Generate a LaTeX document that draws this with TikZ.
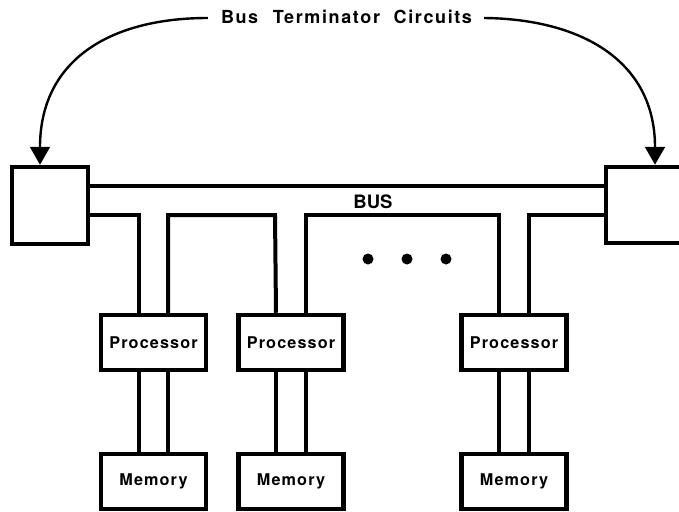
\documentclass[tikz,border=0pt]{standalone}
\usepackage{fontspec}
\setmainfont{TeX Gyre Heros}
\usetikzlibrary{arrows.meta,calc}
\begin{document}
\begin{tikzpicture}[x=1pt,y=-1pt,
  box/.style={draw,line width=4.5pt,inner sep=0pt},
  procbox/.style={box,minimum width=105pt,minimum height=55pt,
    font=\fontsize{16.2}{20}\selectfont\bfseries\addfontfeatures{LetterSpace=7}},
  wire/.style={line width=4pt},
  curvearrow/.style={line width=2.4pt,-{Triangle[length=18pt,width=20pt]}},
  dot/.style={circle,fill,inner sep=0pt,minimum size=11pt}]
\useasboundingbox (0,0) rectangle (679,511);

% terminators
\node[box,minimum width=76pt,minimum height=77pt] (termL) at (50,205.5) {};
\node[box,minimum width=76pt,minimum height=76pt] (termR) at (644,205) {};

% processors and memories
\node[procbox] (proc1) at (153.5,342.5) {Processor};
\node[procbox] (proc2) at (291,342.5) {Processor};
\node[procbox] (proc3) at (514,342.5) {Processor};
\node[procbox] (mem1) at (153.5,481.5) {Memory};
\node[procbox] (mem2) at (291,481.5) {Memory};
\node[procbox] (mem3) at (514,481.5) {Memory};

% labels
\node[font=\fontsize{18}{22}\selectfont\bfseries\addfontfeatures{LetterSpace=9},inner sep=0pt] (title) at (346.5,17) {Bus\hspace{8pt} Terminator\hspace{7pt} Circuits};
\node[font=\fontsize{18.5}{22}\selectfont\bfseries,inner sep=0pt] (buslbl) at (373,202) {BUS};

% dots
\node[dot] (d1) at (368,259) {};
\node[dot] (d2) at (407,259) {};
\node[dot] (d3) at (446,259) {};

% bus top line
\draw[wire] (termL.east |- 0,186) -- (termR.west |- 0,186);
% bus lower line with drops
\draw[wire] (termL.east |- 0,215) -| ([xshift=-14.5pt]proc1.north);
\draw[wire] ([xshift=14.5pt]proc1.north) |- (275,215) -- ([xshift=-15pt]proc2.north);
\draw[wire] ([xshift=15pt]proc2.north) |- (499,215) -- ([xshift=-15pt]proc3.north);
\draw[wire] ([xshift=14.5pt]proc3.north) |- (termR.west |- 0,215);

% processor-memory links
\draw[wire] ([xshift=-14.5pt]proc1.south) -- ([xshift=-14.5pt]mem1.north);
\draw[wire] ([xshift=14.5pt]proc1.south) -- ([xshift=14.5pt]mem1.north);
\draw[wire] ([xshift=-15pt]proc2.south) -- ([xshift=-15pt]mem2.north);
\draw[wire] ([xshift=15pt]proc2.south) -- ([xshift=15pt]mem2.north);
\draw[wire] ([xshift=-15pt]proc3.south) -- ([xshift=-15pt]mem3.north);
\draw[wire] ([xshift=14.5pt]proc3.south) -- ([xshift=14.5pt]mem3.north);

% terminator arrows
\draw[curvearrow] ([xshift=-13pt,yshift=-1pt]title.west) .. controls (110,18) and (40,60) .. ([xshift=-10pt]termL.north);
\draw[curvearrow] ([xshift=12pt,yshift=-1pt]title.east) .. controls (580,19) and (655,60) .. ([xshift=11pt]termR.north);
\end{tikzpicture}
\end{document}
